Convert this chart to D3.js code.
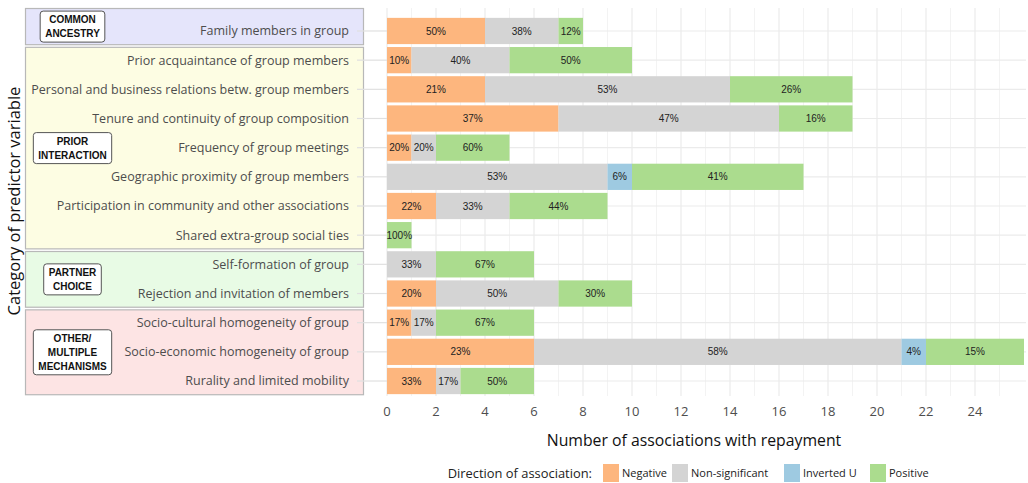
<!DOCTYPE html>
<html><head><meta charset="utf-8">
<script src="https://cdn.jsdelivr.net/npm/d3@7"></script>
<style>
html,body{margin:0;padding:0;background:#fff;}
svg{display:block;}
</style></head>
<body>
<svg id="chart" width="1028" height="483"></svg>
<script>
const categories = [
  "Family members in group",
  "Prior acquaintance of group members",
  "Personal and business relations betw. group members",
  "Tenure and continuity of group composition",
  "Frequency of group meetings",
  "Geographic proximity of group members",
  "Participation in community and other associations",
  "Shared extra-group social ties",
  "Self-formation of group",
  "Rejection and invitation of members",
  "Socio-cultural homogeneity of group",
  "Socio-economic homogeneity of group",
  "Rurality and limited mobility"
];
const negative       = [4, 1, 4, 7, 1, 0, 2, 0, 0, 2, 1, 6, 2];
const nonSignificant = [3, 4, 10, 9, 1, 9, 3, 0, 2, 5, 1, 15, 1];
const invertedU      = [0, 0, 0, 0, 0, 1, 0, 0, 0, 0, 0, 1, 0];
const positive       = [1, 5, 5, 3, 3, 7, 4, 1, 4, 3, 4, 4, 3];

const seriesNames = ["Negative", "Non-significant", "Inverted U", "Positive"];
const seriesColors = ["#fdb67e", "#d4d4d4", "#9ecae1", "#abdc8e"];

const groupNames = [["COMMON", "ANCESTRY"], ["PRIOR", "INTERACTION"], ["PARTNER", "CHOICE"], ["OTHER/", "MULTIPLE", "MECHANISMS"]];
const groupFirst = [categories[0], categories[1], categories[8], categories[10]];
const groupLast  = [categories[0], categories[7], categories[9], categories[12]];
const groupFills = ["#e5e5fb", "#fdfde3", "#e8fbe5", "#fde4e4"];

const xTicks = [0, 2, 4, 6, 8, 10, 12, 14, 16, 18, 20, 22, 24];
const xMinor = [1, 3, 5, 7, 9, 11, 13, 15, 17, 19, 21, 23, 25];

const svg = d3.select("#chart");
const panel = {left: 387, right: 1026, top: 8, bottom: 396};
const FONT = "'Open Sans', 'Noto Sans', sans-serif";

const x = d3.scaleLinear().domain([0, 26]).range([panel.left, panel.right - 2]);
const y = d3.scaleBand().domain(categories).range([16.4, 395.6]).paddingInner(0.1).paddingOuter(0.05);
const step = y.step();
const yc = c => y(c) + y.bandwidth() / 2;

// round half to even (like R)
function roundEven(v) {
  const f = Math.floor(v), d = v - f;
  if (Math.abs(d - 0.5) < 1e-9) return f % 2 === 0 ? f : f + 1;
  return Math.round(v);
}

// group background boxes
const groupG = svg.append("g");
groupNames.forEach((lines, i) => {
  const top = i === 0 ? panel.top + 0.5 : yc(groupFirst[i]) - 0.44 * step;
  const bottom = yc(groupLast[i]) + 0.47 * step;
  groupG.append("rect")
    .attr("x", 25.5).attr("y", top)
    .attr("width", 338).attr("height", bottom - top)
    .attr("fill", groupFills[i]).attr("stroke", "#b8b8b8").attr("stroke-width", 1.2);
});

// gridlines
const grid = svg.append("g");
grid.selectAll(".minor").data(xMinor).join("line")
  .attr("x1", d => x(d)).attr("x2", d => x(d))
  .attr("y1", panel.top).attr("y2", panel.bottom)
  .attr("stroke", "#f3f3f3").attr("stroke-width", 1);
grid.selectAll(".major").data(xTicks).join("line")
  .attr("x1", d => x(d)).attr("x2", d => x(d))
  .attr("y1", panel.top).attr("y2", panel.bottom)
  .attr("stroke", "#ebebeb").attr("stroke-width", 1.2);
grid.selectAll(".hz").data(categories).join("line")
  .attr("x1", panel.left).attr("x2", panel.right)
  .attr("y1", d => yc(d)).attr("y2", d => yc(d))
  .attr("stroke", "#ebebeb").attr("stroke-width", 1.2);

// y ticks (light lines reaching into label area)
svg.append("g").selectAll("line").data(categories).join("line")
  .attr("x1", 357).attr("x2", panel.left)
  .attr("y1", d => yc(d)).attr("y2", d => yc(d))
  .attr("stroke", "#e0e0e0").attr("stroke-width", 1.2);

// y labels, sized so the longest fits the reference width
const yLab = svg.append("g").selectAll("text").data(categories).join("text")
  .attr("x", 349).attr("y", d => yc(d)).attr("dy", "0.35em")
  .attr("text-anchor", "end")
  .attr("font-family", FONT)
  .attr("font-size", 13.2).attr("fill", "#4d4d4d")
  .text(d => d);
let maxW = 0;
yLab.each(function() { maxW = Math.max(maxW, this.getComputedTextLength()); });
yLab.attr("font-size", 13.2 * 318 / maxW);

// group label boxes
groupNames.forEach((lines, i) => {
  const top = i === 0 ? panel.top + 0.5 : yc(groupFirst[i]) - 0.44 * step;
  const bottom = yc(groupLast[i]) + 0.47 * step;
  const cy = (top + bottom) / 2;
  const lh = 14;
  const g = svg.append("g");
  const texts = g.selectAll("text").data(lines).join("text")
    .attr("x", 72.5)
    .attr("y", (d, j) => cy + (j - (lines.length - 1) / 2) * lh)
    .attr("dy", "0.36em")
    .attr("text-anchor", "middle")
    .attr("font-family", "'Liberation Sans', Arial, sans-serif")
    .attr("font-weight", "bold").attr("font-size", 10).attr("fill", "#111")
    .text(d => d);
  let w = 0;
  texts.each(function() { w = Math.max(w, this.getComputedTextLength()); });
  const bw = w + 10, bh = lines.length * lh + 3;
  g.insert("rect", "text")
    .attr("x", 72.5 - bw / 2).attr("y", cy - bh / 2)
    .attr("width", bw).attr("height", bh)
    .attr("rx", 3).attr("fill", "#fff").attr("stroke", "#555").attr("stroke-width", 1);
});

// stacked bars
const rows = categories.map((c, i) => ({cat: c, vals: [negative[i], nonSignificant[i], invertedU[i], positive[i]]}));
const segs = [];
rows.forEach(r => {
  const total = d3.sum(r.vals);
  let acc = 0;
  r.vals.forEach((v, k) => {
    if (v > 0) segs.push({cat: r.cat, k, x0: acc, x1: acc + v, pct: roundEven(100 * v / total)});
    acc += v;
  });
});
const bars = svg.append("g");
bars.selectAll("rect").data(segs).join("rect")
  .attr("x", d => x(d.x0)).attr("width", d => x(d.x1) - x(d.x0))
  .attr("y", d => y(d.cat)).attr("height", y.bandwidth())
  .attr("fill", d => seriesColors[d.k]);
bars.selectAll("text").data(segs).join("text")
  .attr("x", d => (x(d.x0) + x(d.x1)) / 2).attr("y", d => yc(d.cat)).attr("dy", "0.36em")
  .attr("text-anchor", "middle")
  .attr("font-family", "'Liberation Sans', Arial, sans-serif")
  .attr("font-size", 10).attr("fill", "#222")
  .text(d => d.pct + "%");

// x axis tick labels
svg.append("g").selectAll("text").data(xTicks).join("text")
  .attr("x", d => x(d)).attr("y", 411).attr("dy", "0.35em")
  .attr("text-anchor", "middle")
  .attr("font-family", FONT)
  .attr("font-size", 13).attr("fill", "#4d4d4d")
  .text(d => d);

// axis titles
svg.append("text")
  .attr("x", 694).attr("y", 440).attr("dy", "0.35em")
  .attr("text-anchor", "middle")
  .attr("font-family", FONT)
  .attr("font-size", 15.8).attr("fill", "#111")
  .text("Number of associations with repayment");
svg.append("text")
  .attr("transform", "translate(14,201) rotate(-90)").attr("dy", "0.35em")
  .attr("text-anchor", "middle")
  .attr("font-family", FONT)
  .attr("font-size", 16.5).attr("fill", "#111")
  .text("Category of predictor variable");

// legend
const leg = svg.append("g");
const legY = 473;
leg.append("text").attr("x", 592).attr("y", legY).attr("dy", "0.35em")
  .attr("text-anchor", "end")
  .attr("font-family", FONT)
  .attr("font-size", 12.9).attr("fill", "#222")
  .text("Direction of association:");
const swX = [603, 672, 784, 870];
seriesNames.forEach((n, k) => {
  leg.append("rect").attr("x", swX[k]).attr("y", legY - 9).attr("width", 16).attr("height", 18)
    .attr("fill", seriesColors[k]);
  leg.append("text").attr("x", swX[k] + 19).attr("y", legY).attr("dy", "0.35em")
    .attr("font-family", FONT)
    .attr("font-size", 11).attr("fill", "#222")
    .text(n);
});
</script>
</body></html>
